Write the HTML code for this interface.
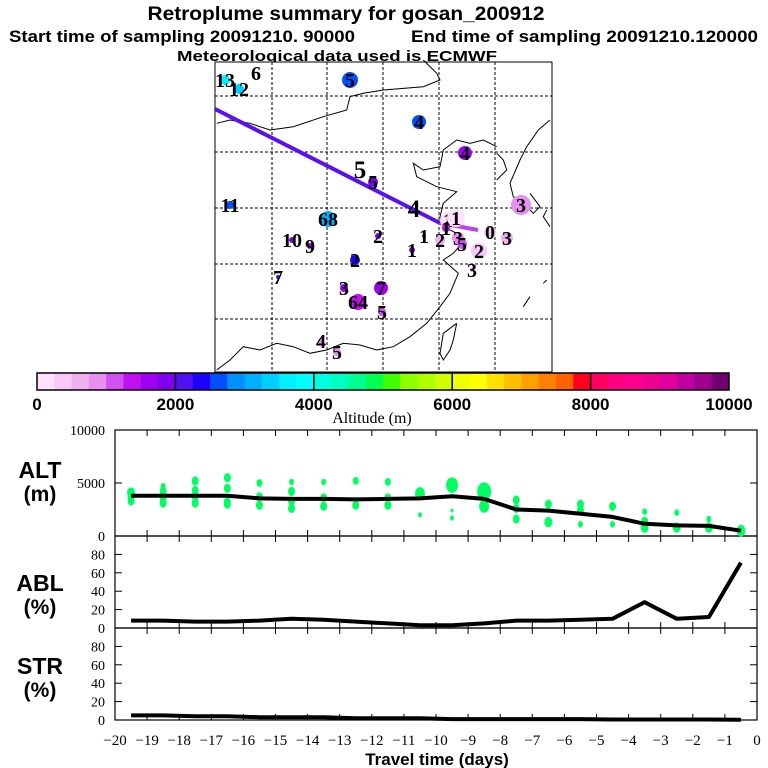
<!DOCTYPE html>
<html><head><meta charset="utf-8"><style>
html,body{margin:0;padding:0;background:#fff;width:768px;height:768px;overflow:hidden}
svg{display:block}
.b{font-family:"Liberation Sans",sans-serif;font-weight:bold}
.s{font-family:"Liberation Serif",serif}
</style></head><body>
<svg id="root" width="768" height="768" viewBox="0 0 768 768" xmlns="http://www.w3.org/2000/svg">
<text class="b" x="346" y="20" font-size="19" text-anchor="middle" textLength="397" lengthAdjust="spacingAndGlyphs">Retroplume summary for gosan_200912</text>
<text class="b" x="9" y="42" font-size="17" textLength="346" lengthAdjust="spacingAndGlyphs">Start time of sampling 20091210. 90000</text>
<text class="b" x="411" y="42" font-size="17" textLength="347" lengthAdjust="spacingAndGlyphs">End time of sampling 20091210.120000</text>
<text class="b" x="337" y="61" font-size="15" text-anchor="middle" textLength="320" lengthAdjust="spacingAndGlyphs">Meteorological data used is ECMWF</text>

<g id="map"></g>
<g id="cbar"></g>
<g id="panels"></g>
</svg>
<script>
const NS='http://www.w3.org/2000/svg';
function mk(tag,attrs,parent){const e=document.createElementNS(NS,tag);for(const k in attrs)e.setAttribute(k,attrs[k]);parent.appendChild(e);return e;}

// ---------- data ----------
const cbColors=['#ffe0ff','#f8c8f8','#f0b0f0','#e890f0','#d050f0','#c010f0','#a000f0','#8000f0',
'#5010f0','#2000ff','#0050ff','#0090ff','#00b0ff','#00d0ff','#00f0ff','#00ffff',
'#00ffe0','#00ffc0','#00ff90','#00ff50','#40ff00','#90ff00','#b0ff00','#d0ff00',
'#f0ff00','#ffff00','#ffe000','#ffc000','#ffa000','#ff8000','#ff6000','#ff0020',
'#ff0060','#ff0080','#ff0090','#f00090','#e000a0','#c000a0','#a00090','#700070'];
const cbTicks=[0,2000,4000,6000,8000,10000];
const days=[-19.5,-18.5,-17.5,-16.5,-15.5,-14.5,-13.5,-12.5,-11.5,-10.5,-9.5,-8.5,-7.5,-6.5,-5.5,-4.5,-3.5,-2.5,-1.5,-0.5];
const altMean=[3800,3800,3800,3800,3550,3500,3500,3450,3500,3550,3750,3500,2500,2400,2100,1800,1150,1000,950,500];
const ablPct=[8,8,7,7,8,10,9,7,5,3,3,5,8,8,9,10,28,10,12,71];
const strPct=[5,5,4,4,3,3,3,2,2,2,1,1,1,1,1,0.5,0.5,0.5,0.5,0.3];
const dotDay=[-19.5,-19.5,-19.5,-18.5,-18.5,-18.5,-18.5,-17.5,-17.5,-17.5,-17.5,-16.5,-16.5,-16.5,-16.5,-15.5,-15.5,-15.5,-14.5,-14.5,-14.5,-14.5,-13.5,-13.5,-13.5,-12.5,-12.5,-11.5,-11.5,-11.5,-10.5,-10.5,-9.5,-9.5,-9.5,-8.5,-8.5,-7.5,-7.5,-7.5,-6.5,-6.5,-5.5,-5.5,-5.5,-4.5,-4.5,-3.5,-3.5,-3.5,-2.5,-2.5,-1.5,-1.5,-0.5];
const dotAlt=[4100,3700,3300,4700,4200,3600,3100,5200,4300,3700,3100,5500,4500,3200,3000,5000,3700,2900,5100,4200,3300,2600,5100,3600,2800,5200,2900,5100,3600,2900,4000,2000,4800,2400,1700,4200,2800,3400,2600,1600,3000,1300,3000,2400,1100,2800,1100,1400,2300,800,2200,800,1600,800,500];
const dotSize=[4,3.5,3.5,2.5,3.5,3.5,3.5,3.5,3.5,3.5,3.5,3.5,3.5,3.5,3.5,3,3.5,3.5,2.5,3.5,3.5,3.5,2.5,3.5,3.5,3,3.5,3,3.5,3.5,5,2,6,1.5,2,7,5,3.5,3.5,3.5,3.5,4,3.5,3.5,2.5,3.5,2.5,3.5,2.5,4,2.5,4,2.5,4,4.5];
// map markers: label, x, y, altitude(m), radius
const mLabel=['13','6','12','5','4','4','5','11','68','10','9','2','1','1','2','3','7','3','7','64','5','4','5','3','2','3','0','1','5','4','1','2','3','5','1'];
const mX=[225,256,239,350,419,465,373,230,328,292,310,378,424,412,355,521,278,344,381,358,382,321,337,472,479,507,490,448,360,414,456,440,458,462,446];
const mY=[80,73,89,80,122,153,182,205,219,240,246,236,236,250,260,205,277,288,288,302,312,341,352,270,251,238,232,220,170,209,218,240,238,244,228];
const mAlt=[3600,3200,3400,2600,2500,1600,1800,2700,3000,1800,1600,1900,1600,1500,2300,900,2100,1500,1500,1300,1200,900,900,900,300,500,400,200,-1,-1,100,700,900,1100,1400];
const mR=[5,0,5,8,7,7,5,4,8,3,3,3,2,3,5,10,2,4,7,8,4,3,4,2,8,6,6,8,0,0,9,5,6,5,4];

// ---------- map ----------
const map=document.getElementById('map');
const ML=215,MR=552,MT=62,MB=372;
mk('rect',{x:ML,y:MT,width:MR-ML,height:MB-MT,fill:'#fff',stroke:'#000','stroke-width':1},map);
[272,327,383,439,495].forEach(x=>mk('line',{x1:x,y1:MT,x2:x,y2:MB,stroke:'#000','stroke-dasharray':'3,2','stroke-width':1},map));
[96,152,208,264,319].forEach(y=>mk('line',{x1:ML,y1:y,x2:MR,y2:y,stroke:'#000','stroke-dasharray':'3,2','stroke-width':1},map));
function zp(pts){return pts.map(p=>(210+p[0]/3).toFixed(1)+','+(60+p[1]/3).toFixed(1)).join(' ');}
const coasts=[
[[640,0],[680,40],[690,60],[640,80],[520,90],[460,100],[420,110],[410,150],[340,170],[250,200],[180,210],[120,190],[60,180],[20,190]],
[[1020,180],[985,210],[950,260],[930,300],[900,370],[910,410],[940,430],[970,460],[990,440],[960,400]],
[[860,260],[820,240],[780,250],[740,240],[700,270],[690,320],[640,330],[610,310],[620,350],[680,380],[740,395],[700,430],[690,470],[700,500],[740,520],[760,545],[730,580],[700,600],[745,640],[720,700],[690,740],[650,790],[600,830],[550,860],[500,870],[450,855],[400,850],[350,870],[300,880],[250,860],[200,850],[150,870],[100,860],[60,900],[20,930]],
[[740,790],[730,840],[720,870],[700,900],[690,880],[700,820],[740,790]],
[[860,280],[880,300],[890,330],[860,360]],
[[1010,450],[1000,470],[1020,500]],[[960,710],[940,740]],[[1000,670],[1010,660]]
];
coasts.forEach((c,i)=>{const p=mk('polyline',{points:zp(c),fill:'none',stroke:'#000','stroke-width':1},map);

});
function altColor(a){const i=Math.max(0,Math.min(39,Math.floor(a/250)));return cbColors[i];}
const traj=mk('polyline',{points:'215,109 440,223',fill:'none',stroke:'#5a10f0','stroke-width':4},map);


const traj2=mk('polyline',{points:'440,223 478,230',fill:'none',stroke:'#c040f0','stroke-width':4},map);


for(let i=0;i<mLabel.length;i++){
  if(mR[i]>0&&mAlt[i]>=0){const c=mk('circle',{cx:mX[i],cy:mY[i],r:mR[i],fill:altColor(mAlt[i])},map);
  
  }
  const big=mR[i]===0&&mAlt[i]<0;
  const t=mk('text',{x:mX[i],y:mY[i]+(big?8:7),'text-anchor':'middle','font-size':big?25:20,class:'s','font-weight':'bold'},map);
  t.textContent=mLabel[i];
  
  
}

// ---------- colorbar ----------
const cb=document.getElementById('cbar');
const CL=37,CR=729,CT=373,CB=390;
const cw=(CR-CL)/cbColors.length;
cbColors.forEach((c,i)=>{const r=mk('rect',{x:CL+i*cw,y:CT,width:cw+0.5,height:CB-CT,fill:c},cb);

});
mk('rect',{x:CL,y:CT,width:CR-CL,height:CB-CT,fill:'none',stroke:'#000','stroke-width':1.5},cb);
cbTicks.forEach(v=>{const x=CL+(CR-CL)*v/10000;
 if(v>0&&v<10000)mk('line',{x1:x,y1:CT,x2:x,y2:CB,stroke:'#000','stroke-width':1.5},cb);
 const t=mk('text',{x:x,y:410,'text-anchor':'middle','font-size':17,class:'b'},cb);t.textContent=v;
 
 });
const at=mk('text',{x:372,y:423,'text-anchor':'middle','font-size':16,class:'s'},cb);at.textContent='Altitude (m)';



// ---------- panels ----------
const pg=document.getElementById('panels');
const PL=115,PR=757;
function xs(d){return PL+(d+20)/20*(PR-PL);}
const panels=[
 {name:'alt',top:430,bot:536,max:10000,ticks:[0,5000,10000],label:'ALT',unit:'(m)',ly:478},
 {name:'abl',top:536,bot:628,max:100,ticks:[0,20,40,60,80],label:'ABL',unit:'(%)',ly:591},
 {name:'str',top:628,bot:720,max:100,ticks:[0,20,40,60,80],label:'STR',unit:'(%)',ly:674}];
panels.forEach(p=>{
 p.ys=v=>p.bot-(v/p.max)*(p.bot-p.top);
 mk('rect',{x:PL,y:p.top,width:PR-PL,height:p.bot-p.top,fill:'none',stroke:'#000','stroke-width':1.2},pg);
 for(let d=-19;d<=-1;d++){const x=xs(d);
  mk('line',{x1:x,y1:p.top,x2:x,y2:p.top+6,stroke:'#000'},pg);
  mk('line',{x1:x,y1:p.bot,x2:x,y2:p.bot-6,stroke:'#000'},pg);}
 p.ticks.forEach(v=>{const y=p.ys(v);
  mk('line',{x1:PL,y1:y,x2:PL+7,y2:y,stroke:'#000'},pg);
  mk('line',{x1:PR,y1:y,x2:PR-7,y2:y,stroke:'#000'},pg);
  const t=mk('text',{x:105,y:y+5,'text-anchor':'end','font-size':14,class:'s'},pg);t.textContent=v;
  
  });
 const l=mk('text',{x:40,y:p.ly,'text-anchor':'middle','font-size':23,class:'b'},pg);l.textContent=p.label;
 
 
 const u=mk('text',{x:40,y:p.ly+23,'text-anchor':'middle','font-size':21,class:'b'},pg);u.textContent=p.unit;
 
 
});
// green dots
for(let i=0;i<dotDay.length;i++){const c=mk('ellipse',{cx:xs(dotDay[i]),cy:panels[0].ys(dotAlt[i]),rx:dotSize[i],ry:dotSize[i]*1.3,fill:'#00ff60'},pg);

}
function line(vals,p,name){const pts=days.map((d,i)=>xs(d).toFixed(1)+','+p.ys(vals[i]).toFixed(1)).join(' ');
 const l=mk('polyline',{points:pts,fill:'none',stroke:'#000','stroke-width':4,'stroke-linejoin':'round'},pg);
 
 }
line(altMean,panels[0],'mean-altitude-line');
line(ablPct,panels[1],'abl-fraction-line');
line(strPct,panels[2],'stratosphere-fraction-line');
for(let d=-20;d<=0;d++){const t=mk('text',{x:xs(d),y:745,'text-anchor':'middle','font-size':15,class:'s'},pg);
 t.textContent=(d<0?'\u2212':'')+Math.abs(d);
 
 }
const xt=mk('text',{x:437,y:765,'text-anchor':'middle','font-size':17,class:'b'},pg);xt.textContent='Travel time (days)';


</script>
</body></html>
